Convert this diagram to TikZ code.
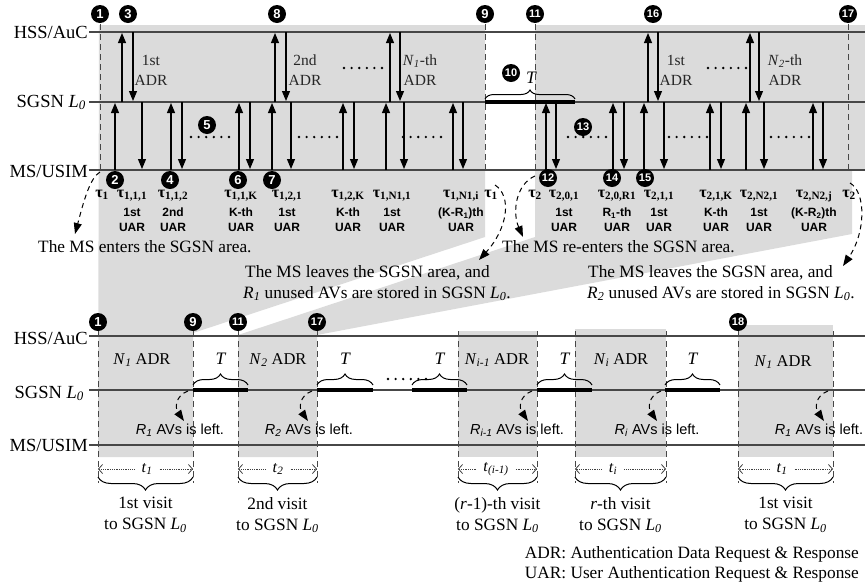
\documentclass[tikz,border=0pt]{standalone}
\usepackage{fontspec}
\setmainfont{Liberation Serif}
\setsansfont{Liberation Sans}
\usetikzlibrary{arrows.meta,decorations.pathreplacing}
\definecolor{areagray}{gray}{0.86}
\definecolor{ln}{gray}{0.28}
\newcommand\ssub[1]{\textsubscript{#1}}
\newcommand\itsub[2]{\textit{#1}\textsubscript{\textit{#2}}}
\newcommand\mydots[2]{\foreach \k in {0,...,5}{\fill[black] (#1-19+\k*7.6,#2) circle (1.3);}}
\begin{document}
\begin{tikzpicture}[x=1pt,y=-1pt,
  area/.style={fill=areagray},
  lane/.style={draw=ln, line width=1.3pt},
  lanelab/.style={anchor=base east, inner sep=0pt, font=\fontsize{18.5}{20}\selectfont},
  vdash/.style={draw=ln, line width=1pt, dash pattern=on 6pt off 4pt},
  msg/.style={draw=black, line width=1.1pt, -{Triangle[length=10pt,width=8pt]}},
  mk/.style={circle, fill=black, text=white, inner sep=0pt, minimum size=18pt, font=\sffamily\bfseries\fontsize{13}{13}\selectfont},
  mkk/.style={mk, font=\sffamily\bfseries\fontsize{11}{11}\selectfont},
  tau/.style={anchor=base, inner sep=0pt, font=\bfseries\fontsize{16}{16}\selectfont},
  uar/.style={inner sep=0pt, align=center, font=\sffamily\bfseries\fontsize{12}{15}\selectfont},
  adr/.style={inner sep=0pt, align=center, text=black!85, font=\fontsize{15.5}{20}\selectfont},
  note/.style={anchor=base west, inner sep=0pt, font=\fontsize{17.3}{21}\selectfont},
  curv/.style={draw=black, line width=1pt, dash pattern=on 5pt off 4pt, -{Triangle[length=11pt,width=8pt]}},
  brc/.style={draw=black, line width=1pt, decorate, decoration={brace, amplitude=#1}},
  tbar/.style={draw=black, line width=3.5pt},
  tlab/.style={inner sep=0pt, font=\itshape\fontsize{17.5}{18}\selectfont},
  badr/.style={inner sep=0pt, font=\fontsize{16.5}{18}\selectfont},
  left/.style={inner sep=0pt, font=\sffamily\fontsize{14.5}{16}\selectfont},
  tper/.style={inner sep=7pt, font=\fontsize{16}{16}\selectfont},
  tarr/.style={draw=black!75, line width=0.8pt, densely dotted, -{Straight Barb[length=4pt,width=9pt]}},
  visit/.style={inner sep=0pt, align=center, font=\fontsize{17.3}{21}\selectfont},
  legend/.style={anchor=base east, inner sep=0pt, font=\fontsize{17.3}{20}\selectfont}
]
\useasboundingbox (0,0) rectangle (865,587);

% ---------- gray areas ----------
\fill[area] (99,25) -- (485,25) -- (485,237) -- (193,333) -- (193,457) -- (98,457) -- cycle;
\fill[area] (535,25) -- (865,25) -- (865,170) -- (852,170) -- (852,234) -- (317,335) -- (317,457) -- (238,457) -- (238,335) -- (535,237) -- cycle;
\fill[area] (458,331) rectangle (537,457);
\fill[area] (575,329) rectangle (666,457);
\fill[area] (738,325) rectangle (833,457);

% ---------- top lanes ----------
\node[lanelab] (hssT) at (88,38) {HSS/AuC};
\node[lanelab] (sgT) at (86,107) {SGSN \itsub{L}{0}};
\node[lanelab] (msT) at (88,177) {MS/USIM};
\draw[lane] (89,32) -- (865,32);
\draw[lane] (89,102) -- (865,102);
\draw[lane] (89,170) -- (865,170);

% ADR arrows
\foreach \u/\d in {122/133, 275/286, 390/400, 648/658, 750/759} {
  \draw[msg] (\u,102) -- (\u,33);
  \draw[msg] (\d,32) -- (\d,101);
}
% UAR arrows
\foreach \u in {115,171,239,272,343,386,453,546,613,644,710,746,813}
  \draw[msg] (\u,170) -- (\u,103);
\foreach \d in {142,182,250,291,354,404,463,556,624,664,721,764,823}
  \draw[msg] (\d,102) -- (\d,169);

% dashed verticals top
\draw[vdash] (100,24) -- (100,172);
\draw[vdash] (485,24) -- (485,172);
\draw[vdash] (535,24) -- (535,172);
\draw[vdash] (848,24) -- (848,172);

% T gap top
\draw[tbar] (485,102) -- (575,102);
\draw[brc=9] (485,99) -- (575,99);
\node[tlab] (Ttop) at (531,78) {T};

% ADR labels
\node[adr] (a1) at (151,70) {1st\\ADR};
\node[adr] (a2) at (305,70) {2nd\\ADR};
\node[adr] (a3) at (420,70) {\itsub{N}{1}-th\\ADR};
\node[adr] (a4) at (676,70) {1st\\ADR};
\node[adr] (a5) at (785,70) {\itsub{N}{2}-th\\ADR};

% dots
\mydots{363}{68} \mydots{727}{68}
\mydots{210}{137} \mydots{318}{137} \mydots{422}{137}
\mydots{587}{137} \mydots{688}{137} \mydots{790}{137}

% tau labels
\node[tau] (ta1) at (102,197) {τ\ssub{1}};
\node[tau] (ta2) at (132,197) {τ\ssub{1,1,1}};
\node[tau] (ta3) at (173,197) {τ\ssub{1,1,2}};
\node[tau] (ta4) at (241,197) {τ\ssub{1,1,K}};
\node[tau] (ta5) at (287,197) {τ\ssub{1,2,1}};
\node[tau] (ta6) at (348,197) {τ\ssub{1,2,K}};
\node[tau] (ta7) at (392,197) {τ\ssub{1,N1,1}};
\node[tau] (ta8) at (461,197) {τ\ssub{1,N1,i}};
\node[tau] (ta9) at (491,197) {τ\ssub{1}};
\node[tau] (ta10) at (535,197) {τ\ssub{2}};
\node[tau] (ta11) at (564,197) {τ\ssub{2,0,1}};
\node[tau] (ta12) at (617,197) {τ\ssub{2,0,R1}};
\node[tau] (ta13) at (659,197) {τ\ssub{2,1,1}};
\node[tau] (ta14) at (716,197) {τ\ssub{2,1,K}};
\node[tau] (ta15) at (759,197) {τ\ssub{2,N2,1}};
\node[tau] (ta16) at (814,197) {τ\ssub{2,N2,j}};
\node[tau] (ta17) at (849,197) {τ\ssub{2}};

% UAR labels
\node[uar] (u1) at (132,220) {1st\\UAR};
\node[uar] (u2) at (173,220) {2nd\\UAR};
\node[uar] (u3) at (241,220) {K-th\\UAR};
\node[uar] (u4) at (287,220) {1st\\UAR};
\node[uar] (u5) at (348,220) {K-th\\UAR};
\node[uar] (u6) at (392,220) {1st\\UAR};
\node[uar] (u7) at (461,220) {(K-R\ssub{1})th\\UAR};
\node[uar] (u8) at (564,220) {1st\\UAR};
\node[uar] (u9) at (617,220) {R\ssub{1}-th\\UAR};
\node[uar] (u10) at (659,220) {1st\\UAR};
\node[uar] (u11) at (716,220) {K-th\\UAR};
\node[uar] (u12) at (759,220) {1st\\UAR};
\node[uar] (u13) at (814,220) {(K-R\ssub{2})th\\UAR};

% enter / leave notes
\node[note] (n1) at (38,252) {The MS enters the SGSN area.};
\node[note] (n2) at (245,277) {The MS leaves the SGSN area, and};
\node[note] (n2b) at (243,298) {\itsub{R}{1} unused AVs are stored in SGSN \itsub{L}{0}.};
\node[note] (n3) at (502,252) {The MS re-enters the SGSN area.};
\node[note] (n4) at (588,277) {The MS leaves the SGSN area, and};
\node[note] (n4b) at (587,298) {\itsub{R}{2} unused AVs are stored in SGSN \itsub{L}{0}.};

\draw[curv] (100,172) .. controls (90,178) and (84,200) .. (75,234);
\draw[curv] (495,185) .. controls (512,196) and (508,228) .. (479,260);
\draw[curv] (535,176) .. controls (516,184) and (512,212) .. (523,237);
\draw[curv] (850,183) .. controls (866,192) and (866,232) .. (843,266);

% top markers
\node[mk] (m1) at (100,14) {1};
\node[mk] (m3) at (128,14) {3};
\node[mk] (m8) at (277,14) {8};
\node[mk] (m9) at (485,14) {9};
\node[mkk] (m11) at (535,14) {11};
\node[mkk] (m16) at (653,14) {16};
\node[mkk] (m17) at (848,14) {17};
\node[mk] (m2) at (115,180) {2};
\node[mk] (m4) at (170,180) {4};
\node[mk] (m6) at (238,180) {6};
\node[mk] (m7) at (272,180) {7};
\node[mk] (m5) at (207,125) {5};
\node[mkk] (m10) at (511,73) {10};
\node[mkk] (m12) at (548,178) {12};
\node[mkk] (m13) at (583,127) {13};
\node[mkk] (m14) at (612,178) {14};
\node[mkk] (m15) at (645,178) {15};

% ---------- bottom lanes ----------
\node[lanelab] (hssB) at (88,344) {HSS/AuC};
\node[lanelab] (sgB) at (84,398) {SGSN \itsub{L}{0}};
\node[lanelab] (msB) at (88,451) {MS/USIM};
\draw[lane] (89,336) -- (865,336);
\draw[lane] (89,390) -- (865,390);
\draw[lane] (89,445) -- (865,445);

\foreach \x in {98,193,238,317,458,537,575,666,738,833}
  \draw[vdash] (\x,331) -- (\x,483);

% T segments
\foreach \a/\b in {193/248, 317/373, 412/467, 537/592, 665/720} {
  \draw[tbar] (\a,390) -- (\b,390);
  \draw[brc=11] (\a,385) -- (\b,385);
}
\node[tlab] (T1) at (220.5,359) {T};
\node[tlab] (T2) at (345,359) {T};
\node[tlab] (T3) at (439.5,359) {T};
\node[tlab] (T4) at (564.5,359) {T};
\node[tlab] (T5) at (692.5,359) {T};
\mydots{407}{379}

% ADR counts
\node[badr] (b1) at (142,360) {\itsub{N}{1} ADR};
\node[badr] (b2) at (278,360) {\itsub{N}{2} ADR};
\node[badr] (b3) at (497,360) {\itsub{N}{i-1} ADR};
\node[badr] (b4) at (621,360) {\itsub{N}{i} ADR};
\node[badr] (b5) at (783,362) {\itsub{N}{1} ADR};

% AVs left
\foreach \e in {193,317,537,666,833}
  \draw[curv] (\e-5,391) .. controls (\e-18,396) and (\e-18,408) .. (\e-9,421);
\node[left] (l1) at (180,430) {\itsub{R}{1} AVs is left.};
\node[left] (l2) at (309,430) {\itsub{R}{2} AVs is left.};
\node[left] (l3) at (517,430) {\itsub{R}{i-1} AVs is left.};
\node[left] (l4) at (657,430) {\itsub{R}{i} AVs is left.};
\node[left] (l5) at (819,430) {\itsub{R}{1} AVs is left.};

% durations
\node[tper] (p1) at (147,469) {\itsub{t}{1}};
\node[tper] (p2) at (278,469) {\itsub{t}{2}};
\node[tper] (p3) at (496,469) {\itsub{t}{(i-1)}};
\node[tper] (p4) at (613,469) {\itsub{t}{i}};
\node[tper] (p5) at (782,469) {\itsub{t}{1}};
\draw[tarr] (p1.west) -- (98,469);  \draw[tarr] (p1.east) -- (193,469);
\draw[tarr] (p2.west) -- (238,469); \draw[tarr] (p2.east) -- (317,469);
\draw[tarr] (p3.west) -- (458,469); \draw[tarr] (p3.east) -- (537,469);
\draw[tarr] (p4.west) -- (575,469); \draw[tarr] (p4.east) -- (666,469);
\draw[tarr] (p5.west) -- (738,469); \draw[tarr] (p5.east) -- (833,469);

% visit braces
\foreach \a/\b in {98/193, 238/317, 458/537, 575/666, 738/833}
  \draw[brc=13] (\b,477) -- (\a,477);
\node[visit] (v1) at (145.5,515) {1st visit\\to SGSN \itsub{L}{0}};
\node[visit] (v2) at (277.5,515) {2nd visit\\to SGSN \itsub{L}{0}};
\node[visit] (v3) at (497.5,515) {(\textit{r}-1)-th visit\\to SGSN \itsub{L}{0}};
\node[visit] (v4) at (620.5,515) {\textit{r}-th visit\\to SGSN \itsub{L}{0}};
\node[visit] (v5) at (785.5,515) {1st visit\\to SGSN \itsub{L}{0}};

% bottom markers
\node[mk] (q1) at (98,322) {1};
\node[mk] (q9) at (193,322) {9};
\node[mkk] (q11) at (238,322) {11};
\node[mkk] (q17) at (317,322) {17};
\node[mkk] (q18) at (738,322) {18};

% legend
\node[legend] (lg1) at (859,558) {ADR: Authentication Data Request \& Response};
\node[legend] (lg2) at (859,578) {UAR: User Authentication Request \& Response};
\end{tikzpicture}
\end{document}
